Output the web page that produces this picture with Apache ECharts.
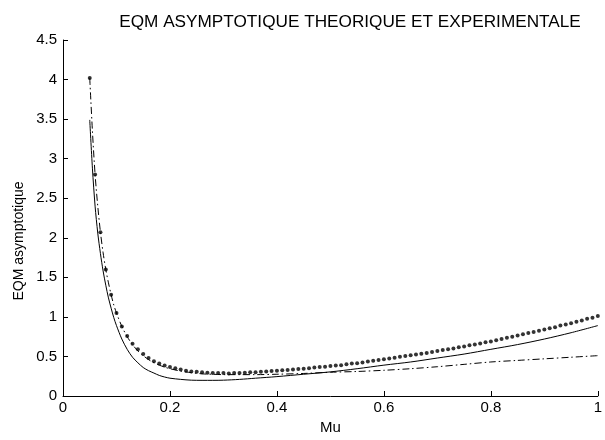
<!DOCTYPE html>
<html>
<head>
<meta charset="utf-8">
<script src="https://cdn.jsdelivr.net/npm/echarts@6/dist/echarts.min.js"></script>
<style>
html,body{margin:0;padding:0;background:#fff;}
#c{width:605px;height:440px;}
</style>
</head>
<body>
<div id="c"></div>
<script>
// Experimental points (dots), mu = 0.05 .. 1.00 step 0.01
const muExp = [];
for (let i = 5; i <= 100; i++) muExp.push(i / 100);
const eqmExp = [
  4.02, 2.80, 2.07, 1.60, 1.28, 1.05, 0.88, 0.76, 0.66, 0.59,
  0.53, 0.48, 0.44, 0.41, 0.385, 0.365, 0.35, 0.335, 0.32, 0.31,
  0.305, 0.30, 0.295, 0.29, 0.29, 0.29, 0.285, 0.29, 0.29, 0.295,
  0.30, 0.30, 0.305, 0.31, 0.315, 0.32, 0.325, 0.33, 0.335, 0.34,
  0.345, 0.35, 0.36, 0.365, 0.37, 0.38, 0.385, 0.39, 0.40, 0.41,
  0.415, 0.425, 0.435, 0.445, 0.455, 0.465, 0.475, 0.485, 0.495, 0.505,
  0.515, 0.525, 0.535, 0.545, 0.555, 0.57, 0.58, 0.59, 0.60, 0.615,
  0.625, 0.64, 0.65, 0.665, 0.68, 0.69, 0.705, 0.72, 0.735, 0.75,
  0.765, 0.78, 0.795, 0.81, 0.825, 0.84, 0.855, 0.87, 0.89, 0.905,
  0.92, 0.94, 0.955, 0.975, 0.99, 1.01
];

// Theoretical curve (solid)
const muTheo = [0.05,0.055,0.06,0.065,0.07,0.075,0.08,0.085,0.09,0.095,0.10,0.11,0.12,0.13,0.14,0.15,0.16,0.17,0.18,0.19,0.20,0.22,0.24,0.26,0.28,0.30,0.33,0.36,0.40,0.45,0.50,0.55,0.60,0.65,0.70,0.75,0.80,0.85,0.90,0.95,1.00];
const eqmTheo = [3.49,2.88,2.40,2.06,1.80,1.58,1.40,1.24,1.11,0.99,0.89,0.72,0.59,0.49,0.42,0.36,0.32,0.29,0.26,0.24,0.225,0.21,0.20,0.198,0.198,0.20,0.21,0.225,0.245,0.275,0.305,0.345,0.39,0.43,0.48,0.53,0.59,0.65,0.72,0.80,0.89];

// Second curve (dash-dot)
const muDd = muTheo;
const eqmDd = [4.02,3.35,2.80,2.40,2.07,1.81,1.60,1.43,1.28,1.15,1.05,0.88,0.75,0.65,0.57,0.51,0.46,0.42,0.39,0.365,0.345,0.315,0.295,0.28,0.275,0.27,0.27,0.27,0.275,0.285,0.30,0.31,0.325,0.345,0.37,0.40,0.43,0.45,0.47,0.49,0.51];

const xTicks = {min: 0, max: 1, interval: 0.2};
const yTicks = {min: 0, max: 4.5, interval: 0.5};

const pair = (xs, ys) => xs.map((x, i) => [x, ys[i]]);
const FONT = 'Liberation Sans';

const chart = echarts.init(document.getElementById('c'), null, {renderer: 'canvas'});
chart.setOption({
  animation: false,
  backgroundColor: '#fff',
  title: {
    text: 'EQM ASYMPTOTIQUE THEORIQUE ET EXPERIMENTALE',
    left: 345, top: 9, textAlign: 'center',
    textStyle: {fontFamily: FONT, fontSize: 17.2, fontWeight: 'normal', color: '#000'}
  },
  graphic: [{
    type: 'text', x: 19, y: 241, rotation: Math.PI / 2,
    style: {text: 'EQM asymptotique', fontFamily: FONT, fontSize: 14, fill: '#000',
            align: 'center', verticalAlign: 'middle'}
  }],
  grid: {left: 63, right: 2, top: 40, bottom: 41, containLabel: false},
  xAxis: {
    type: 'value', min: xTicks.min, max: xTicks.max, interval: xTicks.interval,
    name: 'Mu', nameLocation: 'middle', nameGap: 24,
    nameTextStyle: {fontFamily: FONT, fontSize: 15, color: '#000'},
    axisLine: {show: true, onZero: false, lineStyle: {color: '#000', width: 1}},
    axisTick: {show: true, inside: true, length: 5, lineStyle: {color: '#000'}},
    axisLabel: {fontFamily: FONT, fontSize: 15, color: '#000', margin: 4},
    splitLine: {show: false}
  },
  yAxis: {
    type: 'value', min: yTicks.min, max: yTicks.max, interval: yTicks.interval,
    axisLine: {show: true, onZero: false, lineStyle: {color: '#000', width: 1}},
    axisTick: {show: true, inside: true, length: 5, lineStyle: {color: '#000'}},
    axisLabel: {fontFamily: FONT, fontSize: 15, color: '#000', margin: 6},
    splitLine: {show: false}
  },
  series: [
    {
      type: 'line', data: pair(muTheo, eqmTheo), smooth: 0.3, showSymbol: false,
      lineStyle: {color: '#000', width: 1, type: 'solid'}
    },
    {
      type: 'line', data: pair(muDd, eqmDd), smooth: 0.3, showSymbol: false,
      lineStyle: {color: '#000', width: 1, type: [7, 3, 1.5, 3]}
    },
    {
      type: 'scatter', data: pair(muExp, eqmExp), symbol: 'circle', symbolSize: 4,
      itemStyle: {color: '#000'}
    }
  ]
});
</script>
</body>
</html>
